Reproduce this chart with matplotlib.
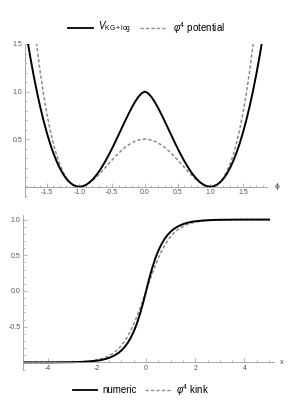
import matplotlib
matplotlib.use("Agg")
import matplotlib.pyplot as plt
from matplotlib.lines import Line2D
from matplotlib.ticker import MultipleLocator, FixedLocator, FixedFormatter

plt.rcParams['font.family'] = ['Liberation Sans', 'DejaVu Sans']
plt.rcParams['mathtext.fontset'] = 'custom'
plt.rcParams['mathtext.rm'] = 'Liberation Sans'
plt.rcParams['mathtext.it'] = 'Liberation Sans:italic'

# ---- top panel: potentials ----
phi = [-1.85, -1.80, -1.75, -1.70, -1.65, -1.60, -1.55, -1.50, -1.45, -1.40,
       -1.35, -1.30, -1.25, -1.20, -1.15, -1.10, -1.05, -1.00, -0.95, -0.90,
       -0.85, -0.80, -0.75, -0.70, -0.65, -0.60, -0.55, -0.50, -0.45, -0.40,
       -0.35, -0.30, -0.25, -0.20, -0.15, -0.10, -0.05, 0.00, 0.05, 0.10,
       0.15, 0.20, 0.25, 0.30, 0.35, 0.40, 0.45, 0.50, 0.55, 0.60,
       0.65, 0.70, 0.75, 0.80, 0.85, 0.90, 0.95, 1.00, 1.05, 1.10,
       1.15, 1.20, 1.25, 1.30, 1.35, 1.40, 1.45, 1.50, 1.55, 1.60,
       1.65, 1.70, 1.75, 1.80, 1.85]
v_kglog = [1.788, 1.569, 1.365, 1.177, 1.004, 0.846, 0.703, 0.575, 0.460, 0.359,
           0.271, 0.197, 0.135, 0.085, 0.047, 0.021, 0.005, 0.000, 0.005, 0.019,
           0.043, 0.074, 0.114, 0.160, 0.214, 0.272, 0.336, 0.403, 0.474, 0.547,
           0.620, 0.693, 0.764, 0.831, 0.892, 0.944, 0.982, 1.000, 0.982, 0.944,
           0.892, 0.831, 0.764, 0.693, 0.620, 0.547, 0.474, 0.403, 0.336, 0.272,
           0.214, 0.160, 0.114, 0.074, 0.043, 0.019, 0.005, 0.000, 0.005, 0.021,
           0.047, 0.085, 0.135, 0.197, 0.271, 0.359, 0.460, 0.575, 0.703, 0.846,
           1.004, 1.177, 1.365, 1.569, 1.788]
v_phi4 = [2.934, 2.464, 2.127, 1.786, 1.484, 1.217, 0.984, 0.781, 0.608, 0.461,
          0.338, 0.238, 0.158, 0.097, 0.052, 0.022, 0.005, 0.000, 0.005, 0.018,
          0.039, 0.065, 0.096, 0.130, 0.167, 0.205, 0.243, 0.281, 0.318, 0.353,
          0.385, 0.414, 0.439, 0.461, 0.478, 0.490, 0.498, 0.500, 0.498, 0.490,
          0.478, 0.461, 0.439, 0.414, 0.385, 0.353, 0.318, 0.281, 0.243, 0.205,
          0.167, 0.130, 0.096, 0.065, 0.039, 0.018, 0.005, 0.000, 0.005, 0.022,
          0.052, 0.097, 0.158, 0.238, 0.338, 0.461, 0.608, 0.781, 0.984, 1.217,
          1.484, 1.786, 2.127, 2.464, 2.934]

# ---- bottom panel: kink profiles ----
xs = [-5.0, -4.5, -4.0, -3.5, -3.0, -2.75, -2.5, -2.25, -2.0, -1.875,
      -1.75, -1.625, -1.5, -1.375, -1.25, -1.125, -1.0, -0.875, -0.75, -0.625,
      -0.5, -0.375, -0.25, -0.125, 0.0, 0.125, 0.25, 0.375, 0.5, 0.625,
      0.75, 0.875, 1.0, 1.125, 1.25, 1.375, 1.5, 1.625, 1.75, 1.875,
      2.0, 2.25, 2.5, 2.75, 3.0, 3.5, 4.0, 4.5, 5.0]
kink_numeric = [-1.000, -1.000, -1.000, -0.999, -0.997, -0.995, -0.991, -0.985, -0.976, -0.970,
                -0.961, -0.950, -0.936, -0.918, -0.895, -0.868, -0.832, -0.786, -0.728, -0.656,
                -0.566, -0.457, -0.324, -0.172, 0.000, 0.172, 0.324, 0.457, 0.566, 0.656,
                0.728, 0.786, 0.832, 0.868, 0.895, 0.918, 0.936, 0.950, 0.961, 0.970,
                0.976, 0.985, 0.991, 0.995, 0.997, 0.999, 1.000, 1.000, 1.000]
kink_phi4 = [-1.000, -1.000, -0.999, -0.998, -0.995, -0.992, -0.987, -0.978, -0.964, -0.954,
             -0.941, -0.926, -0.905, -0.880, -0.848, -0.810, -0.762, -0.704, -0.635, -0.555,
             -0.462, -0.358, -0.245, -0.124, 0.000, 0.124, 0.245, 0.358, 0.462, 0.555,
             0.635, 0.704, 0.762, 0.810, 0.848, 0.880, 0.905, 0.926, 0.941, 0.954,
             0.964, 0.978, 0.987, 0.992, 0.995, 0.998, 0.999, 1.000, 1.000]

top_xticks = [-1.5, -1.0, -0.5, 0.0, 0.5, 1.0, 1.5]
top_xlabels = ['-1.5', '-1.0', '-0.5', '0.0', '0.5', '1.0', '1.5']
top_yticks = [0.5, 1.0, 1.5]
top_ylabels = ['0.5', '1.0', '1.5']
bot_xticks = [-4, -2, 0, 2, 4]
bot_xlabels = ['-4', '-2', '0', '2', '4']
bot_yticks = [-0.5, 0.0, 0.5, 1.0]
bot_ylabels = ['-0.5', '0.0', '0.5', '1.0']

AXCOL = '#9a9a9a'
LBLCOL = '#555555'
DASHCOL = '#8c8c8c'


def style_axes(ax, xt, xl, yt, yl, xminor, yminor, yorigin):
    for s in ['top', 'right']:
        ax.spines[s].set_visible(False)
    ax.spines['bottom'].set_position(('data', yorigin))
    for s in ['left', 'bottom']:
        ax.spines[s].set_color(AXCOL)
        ax.spines[s].set_linewidth(0.6)
    ax.xaxis.set_major_locator(FixedLocator(xt))
    ax.xaxis.set_major_formatter(FixedFormatter(xl))
    ax.yaxis.set_major_locator(FixedLocator(yt))
    ax.yaxis.set_major_formatter(FixedFormatter(yl))
    ax.xaxis.set_minor_locator(MultipleLocator(xminor))
    ax.yaxis.set_minor_locator(MultipleLocator(yminor))
    ax.tick_params(which='both', direction='in', color=AXCOL, width=0.5,
                   labelsize=5.0, labelcolor=LBLCOL, pad=2)
    ax.tick_params(which='major', length=3)
    ax.tick_params(which='minor', length=1.6)
    ax.patch.set_visible(False)


fig = plt.figure(figsize=(2.91, 4.07), dpi=100)

ax1 = fig.add_axes([0.0859, 0.5167, 0.8306, 0.3752])
ax1.plot(phi, v_phi4, color=DASHCOL, lw=1.1, dashes=(2.2, 1.4))
ax1.plot(phi, v_kglog, color='black', lw=1.4)
ax1.set_xlim(-1.83, 1.86)
ax1.set_ylim(-0.105, 1.5)
style_axes(ax1, top_xticks, top_xlabels, top_yticks, top_ylabels, 0.1, 0.1, 0)
ax1.annotate('ϕ', xy=(1, 0), xycoords=('axes fraction', 'data'), xytext=(6, 0),
             textcoords='offset points', fontsize=6, color='#333333',
             va='center', ha='left')

ax2 = fig.add_axes([0.0794, 0.0921, 0.8622, 0.3789])
ax2.plot(xs, kink_phi4, color=DASHCOL, lw=1.1, dashes=(2.2, 1.4))
ax2.plot(xs, kink_numeric, color='black', lw=1.4)
ax2.set_xlim(-5, 5.2)
ax2.set_ylim(-1.1, 1.06)
style_axes(ax2, bot_xticks, bot_xlabels, bot_yticks, bot_ylabels, 0.5, 0.1, -1)
ax2.annotate('x', xy=(1, -1), xycoords=('axes fraction', 'data'), xytext=(4.5, 0),
             textcoords='offset points', fontsize=5, color='#444444',
             va='center', ha='left')


# legends drawn by hand, Mathematica style
def legend_row(y, solid_x, dash_x, solid_txt, dash_txt):
    fig.add_artist(Line2D(solid_x[:2], [y, y], color='black', lw=1.3,
                          transform=fig.transFigure))
    fig.text(solid_x[2], y, solid_txt, fontsize=7.0, va='center', ha='left')
    fig.add_artist(Line2D(dash_x[:2], [y, y], color=DASHCOL, lw=1.0,
                          dashes=(2.4, 1.5), transform=fig.transFigure))
    fig.text(dash_x[2], y, dash_txt, fontsize=7.0, va='center', ha='left')


legend_row(0.932, (0.2347, 0.3186, 0.336), (0.4811, 0.5704, 0.5935),
           r'$V_{\mathrm{KG+log}}$', r'$φ^4$ potential')
legend_row(0.041, (0.2498, 0.3344, 0.3529), (0.4983, 0.5842, 0.6048),
           'numeric', r'$φ^4$ kink')

fig.savefig('out.png', dpi=100)
